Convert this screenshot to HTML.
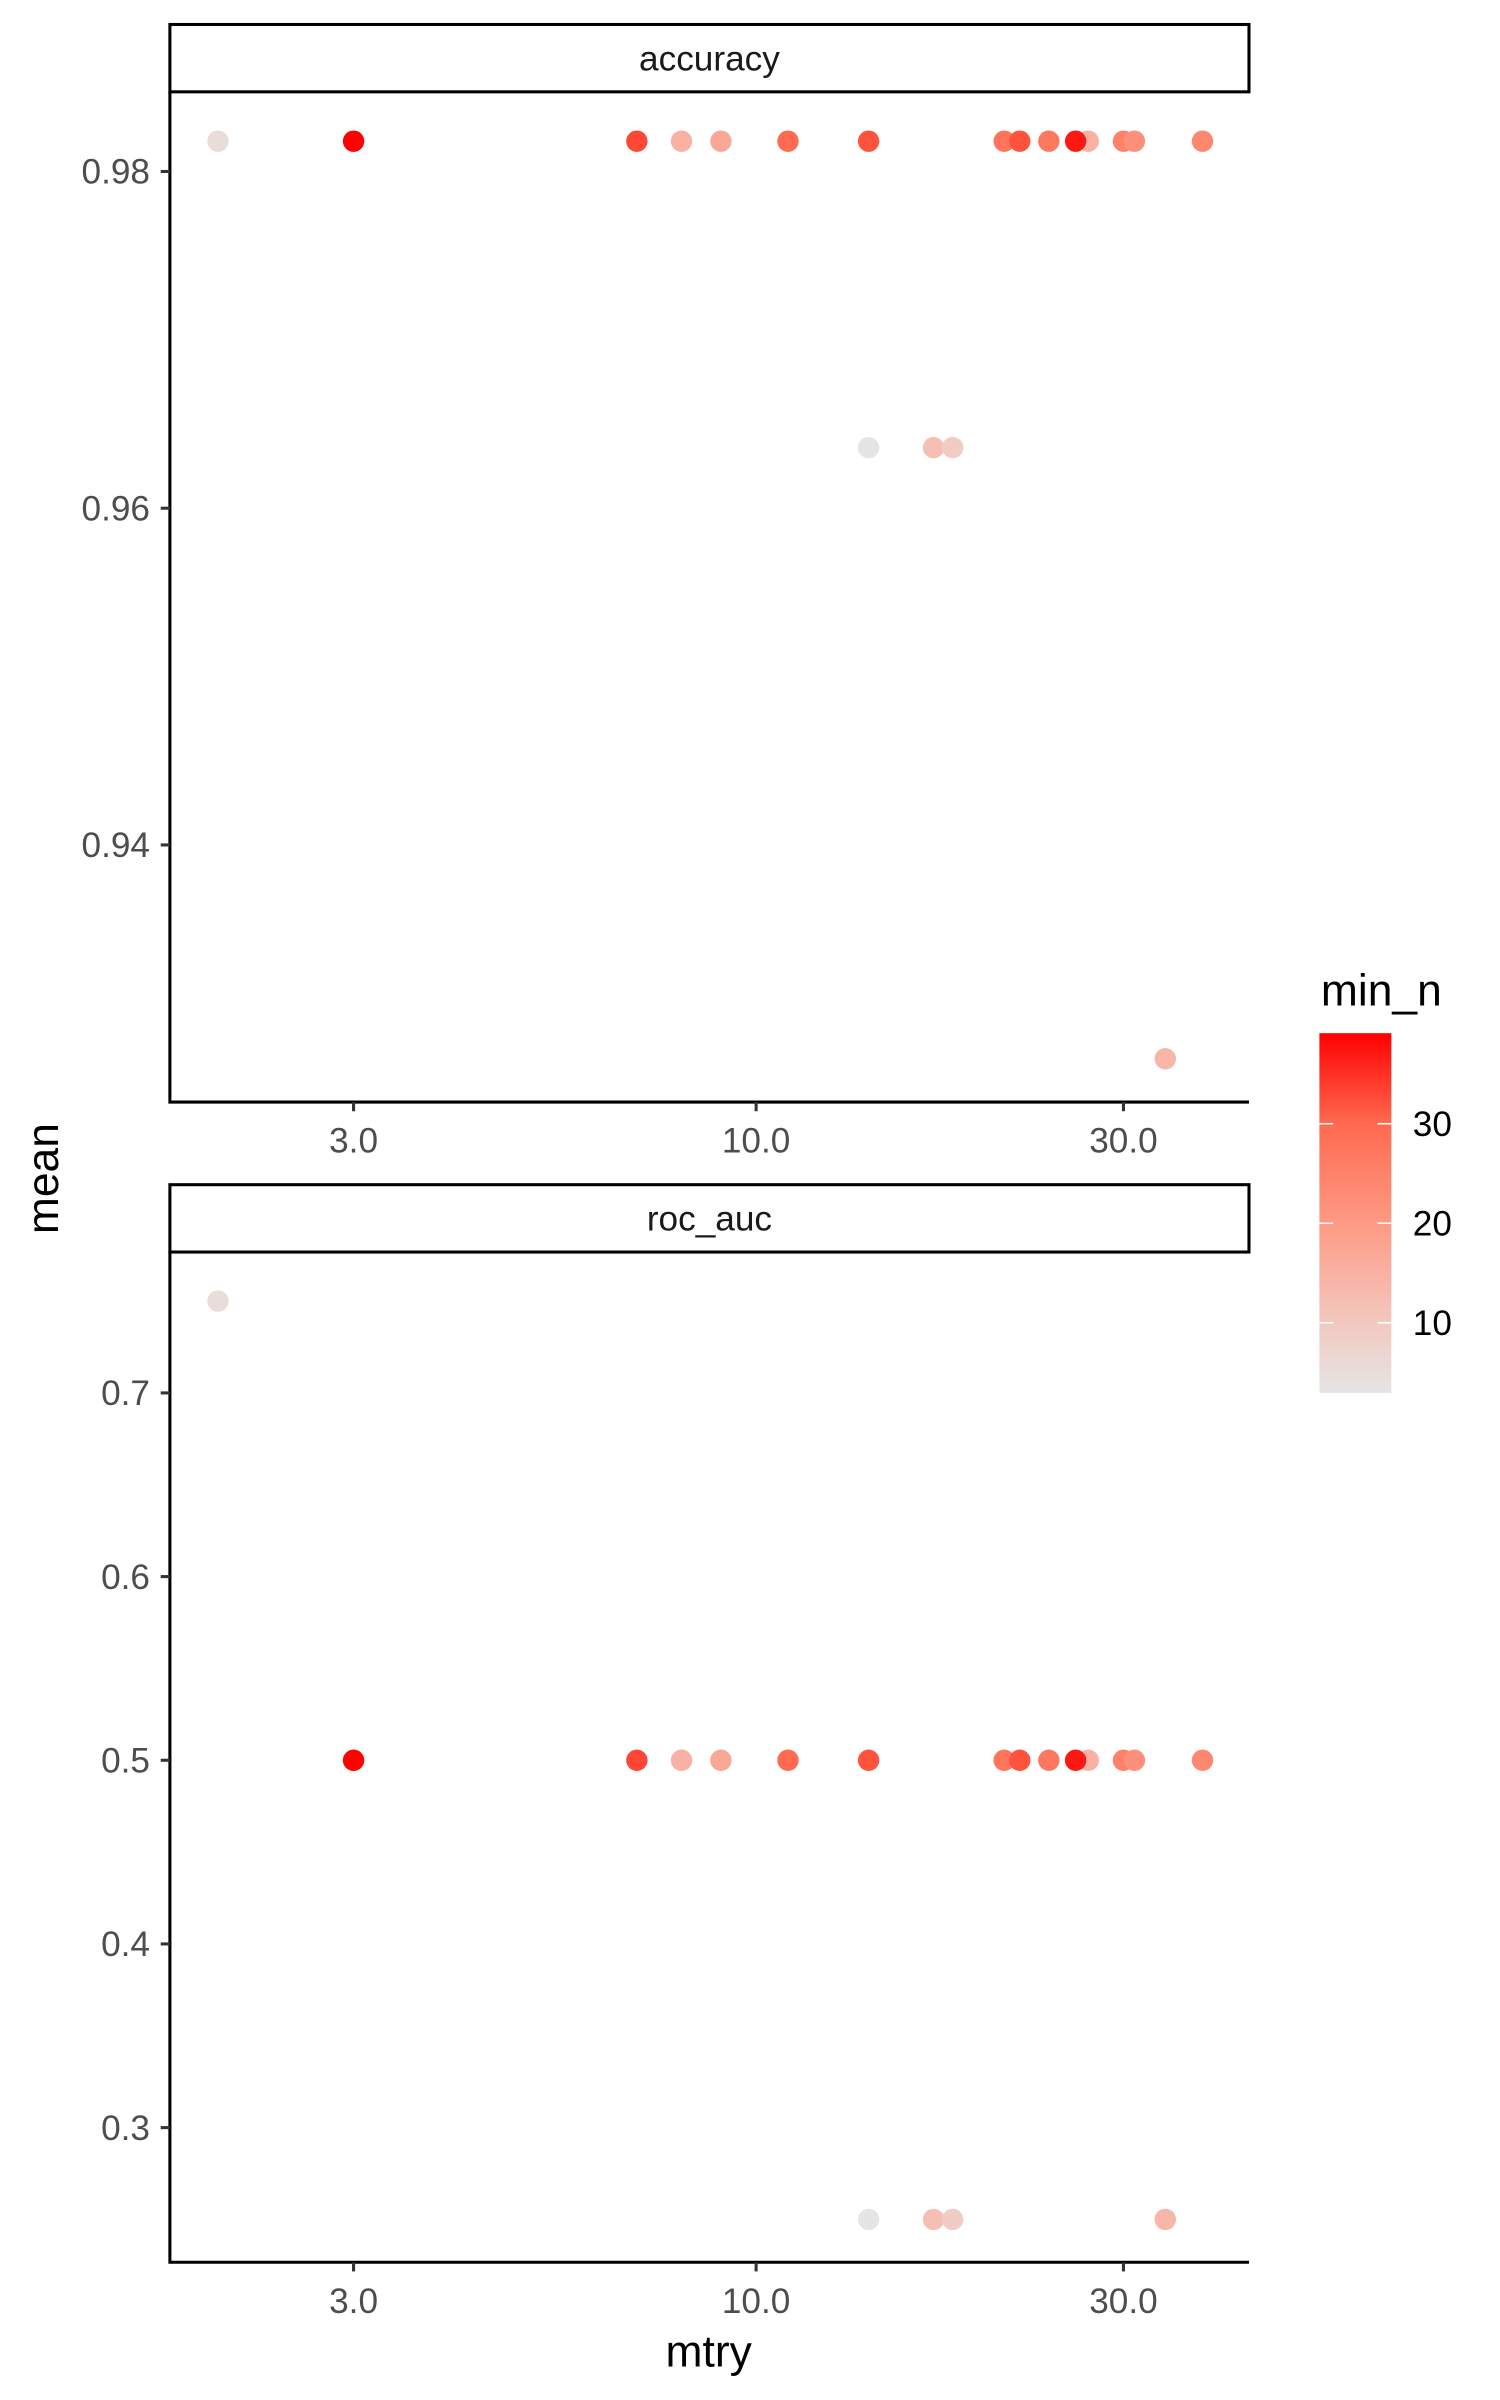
<!DOCTYPE html>
<html><head><meta charset="utf-8"><style>
html,body{margin:0;padding:0;background:#fff}
svg{display:block}
text{font-family:"Liberation Sans",Arial,sans-serif}
</style></head><body>
<svg id="chart" width="1500" height="2400" viewBox="0 0 980 1568" xmlns="http://www.w3.org/2000/svg">
<defs>
<linearGradient id="grad" x1="0" y1="1" x2="0" y2="0">
<stop offset="0" stop-color="#e5e5e5"/>
<stop offset="0.195" stop-color="#f3c8bf"/>
<stop offset="0.47" stop-color="#fd9a85"/>
<stop offset="0.748" stop-color="#ff6a50"/>
<stop offset="1" stop-color="#ff0000"/>
</linearGradient>
</defs>
<g id="plot"></g>
</svg>
<script>
const mtry = [2,3,7,8,9,11,14,14,17,18,21,22,24,27,26,30,31,34,38];
const minN = [5,39,33,15,17,30,32,3,12,9,28,32,27,15,37,25,22,14,24];
const accuracy = [0.9818,0.9818,0.9818,0.9818,0.9818,0.9818,0.9818,0.9636,0.9636,0.9636,0.9818,0.9818,0.9818,0.9818,0.9818,0.9818,0.9818,0.9273,0.9818];
const rocAuc = [0.75,0.5,0.5,0.5,0.5,0.5,0.5,0.25,0.25,0.25,0.5,0.5,0.5,0.5,0.5,0.5,0.5,0.25,0.5];
const xTicks = [3,10,30];
const xTickLabels = ["3.0","10.0","30.0"];
const accTicks = [0.94,0.96,0.98];
const rocTicks = [0.3,0.4,0.5,0.6,0.7];
const legendTicks = [10,20,30];

const NS="http://www.w3.org/2000/svg";
const g=document.getElementById('plot');
function el(tag,attrs,parent){const e=document.createElementNS(NS,tag);for(const k in attrs)e.setAttribute(k,attrs[k]);(parent||g).appendChild(e);return e;}
const X0=111,X1=816;
const xs=v=>494+(Math.log10(v)-1)*503;
const cMin=2.96,cMax=39.1;
const stops=[[0,[229,229,229]],[0.195,[243,200,191]],[0.47,[253,154,133]],[0.748,[255,106,80]],[1,[255,0,0]]];
function col(v){let t=Math.max(0,Math.min(1,(v-cMin)/(cMax-cMin)));for(let i=1;i<stops.length;i++){if(t<=stops[i][0]){const a=stops[i-1],b=stops[i];const f=(t-a[0])/(b[0]-a[0]);const c=a[1].map((x,j)=>Math.round(x+(b[1][j]-x)*f));return `rgb(${c})`;}}return 'rgb(255,0,0)';}

function panel(name,top,bottom,yLo,yHi,yTicks,vals,fmt){
  const ys=v=>bottom-(v-yLo)/(yHi-yLo)*(bottom-top);
  const strip=el('rect',{x:X0,y:top-44,width:X1-X0,height:44,fill:'#fff',stroke:'#000','stroke-width':2});
  
  
  const st=el('text',{x:(X0+X1)/2,y:top-14,'text-anchor':'middle','font-size':23,fill:'#1a1a1a'});
  st.textContent=name;
  
  
  const ax=el('path',{d:`M${X0} ${top}V${bottom}H${X1}`,fill:'none',stroke:'#000','stroke-width':2});
  
  
  yTicks.forEach(v=>{const y=ys(v);
    el('line',{x1:X0-6,x2:X0,y1:y,y2:y,stroke:'#333','stroke-width':2});
    const t=el('text',{x:X0-13,y:y+8,'text-anchor':'end','font-size':23,fill:'#4d4d4d'});
    t.textContent=fmt(v);
    
    
  });
  xTicks.forEach((v,i)=>{const x=xs(v);
    el('line',{x1:x,x2:x,y1:bottom,y2:bottom+6,stroke:'#333','stroke-width':2});
    const t=el('text',{x:x,y:bottom+33,'text-anchor':'middle','font-size':23,fill:'#4d4d4d'});
    t.textContent=xTickLabels[i];
    
    
  });
  vals.forEach((v,i)=>{
    const c=el('circle',{cx:xs(mtry[i]),cy:ys(v),r:7,fill:col(minN[i])});
    
    
  });
}
panel('accuracy',60,720,0.92473,0.98473,accTicks,accuracy,v=>v.toFixed(2));
panel('roc_auc',818,1478,0.2267,0.7767,rocTicks,rocAuc,v=>v.toFixed(1));

let t=el('text',{x:463,y:1546,'text-anchor':'middle','font-size':29,fill:'#000'});
t.textContent='mtry';


t=el('text',{x:38,y:770,'text-anchor':'middle','font-size':29,fill:'#000',transform:'rotate(-90 38 770)'});
t.textContent='mean';



t=el('text',{x:863,y:657,'font-size':29,fill:'#000'});
t.textContent='min_n';


const LT=675,LB=910,LX=862,LW=47;
const bar=el('rect',{x:LX,y:LT,width:LW,height:LB-LT,fill:'url(#grad)'});


const ly=v=>LB-(v-cMin)/(cMax-cMin)*(LB-LT);
legendTicks.forEach(v=>{const y=ly(v);
  el('line',{x1:LX,x2:LX+9,y1:y,y2:y,stroke:'#fff','stroke-width':1});
  el('line',{x1:LX+LW-9,x2:LX+LW,y1:y,y2:y,stroke:'#fff','stroke-width':1});
  const tt=el('text',{x:923,y:y+8,'font-size':23,fill:'#000'});
  tt.textContent=v;
  
  
});
</script>
</body></html>
